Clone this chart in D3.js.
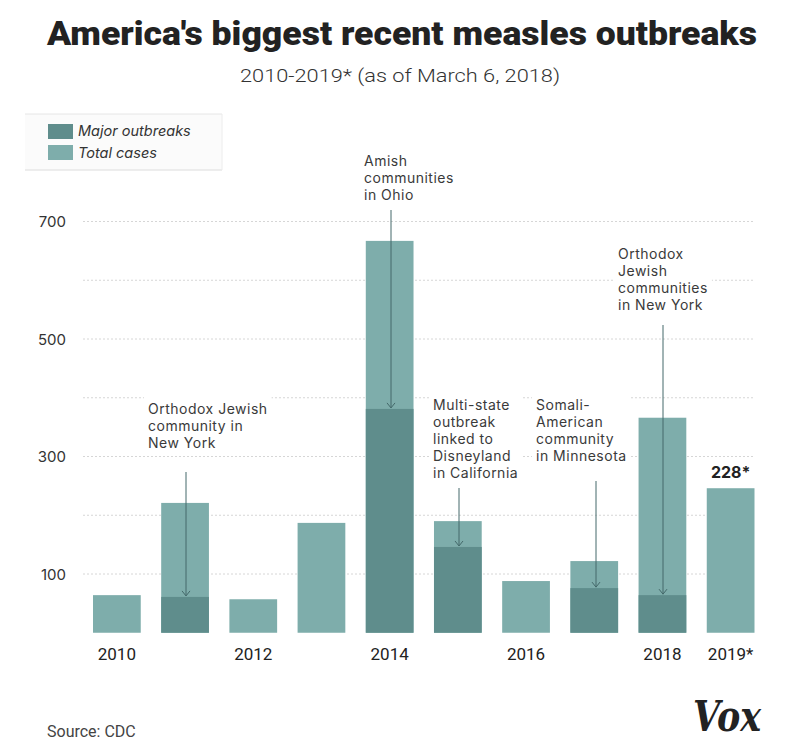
<!DOCTYPE html>
<html>
<head>
<meta charset="utf-8">
<script src="https://cdn.jsdelivr.net/npm/d3@7"></script>
<style>
  body { margin: 0; background: #fff; }
  svg { display: block; }
</style>
</head>
<body>
<div id="chart"></div>
<script>
// ---- data ----
const years = ["2010","2011","2012","2013","2014","2015","2016","2017","2018","2019*"];
const totalCases = [64, 221, 57, 187, 667, 190, 88, 122, 366, 246];
const majorOutbreaks = [0, 61, 0, 0, 381, 146, 0, 76, 64, 0];
const xTickLabels = ["2010","","2012","","2014","","2016","","2018","2019*"];
const yTickValues = [100, 200, 300, 400, 500, 600, 700];
const yTickLabels = ["100", "", "300", "", "500", "", "700"];
const annotations = [
  { year: "2011", lines: ["Orthodox Jewish", "community in", "New York"] },
  { year: "2014", lines: ["Amish", "communities", "in Ohio"] },
  { year: "2015", lines: ["Multi-state", "outbreak", "linked to", "Disneyland", "in California"] },
  { year: "2017", lines: ["Somali-", "American", "community", "in Minnesota"] },
  { year: "2018", lines: ["Orthodox", "Jewish", "communities", "in New York"] }
];
const lastLabel = "228*";

// ---- layout ----
const W = 800, H = 750;
const colTotal = "#7eadab", colMajor = "#5f8d8c", arrowCol = "#44696a";
const svg = d3.select("#chart").append("svg").attr("width", W).attr("height", H);
svg.append("rect").attr("width", W).attr("height", H).attr("fill", "#fff");

const x = d3.scaleBand().domain(years).range([93, 754.5]).paddingInner(0.3).paddingOuter(0);
const y = d3.scaleLinear().domain([0, 700]).range([632.75, 221.5]);

// title
svg.append("text").attr("x", 47).attr("y", 45)
  .attr("textLength", 710).attr("lengthAdjust", "spacingAndGlyphs")
  .style("font-family", "Roboto, 'Liberation Sans', sans-serif").style("font-weight", 900)
  .style("font-size", "33px").attr("fill", "#222")
  .text("America's biggest recent measles outbreaks");
svg.append("text").attr("x", 240).attr("y", 82)
  .attr("textLength", 320).attr("lengthAdjust", "spacingAndGlyphs")
  .style("font-family", "Roboto, sans-serif").style("font-weight", 300)
  .style("font-size", "18px").attr("fill", "#333")
  .text("2010-2019* (as of March 6, 2018)");

// legend
const lg = svg.append("g");
lg.append("rect").attr("x", 25).attr("y", 114).attr("width", 197).attr("height", 56).attr("fill", "#fbfbfb");
lg.append("line").attr("x1", 25).attr("x2", 222).attr("y1", 114).attr("y2", 114).attr("stroke", "#e6e6e6");
lg.append("line").attr("x1", 25).attr("x2", 222).attr("y1", 170).attr("y2", 170).attr("stroke", "#dcdcdc");
lg.append("line").attr("x1", 222).attr("x2", 222).attr("y1", 114).attr("y2", 170).attr("stroke", "#ececec");
const legendItems = [{ label: "Major outbreaks", color: colMajor }, { label: "Total cases", color: colTotal }];
legendItems.forEach((d, i) => {
  lg.append("rect").attr("x", 48).attr("y", 124 + i * 21).attr("width", 25).attr("height", 15).attr("fill", d.color);
  lg.append("text").attr("x", 78).attr("y", 136 + i * 22)
    .style("font-family", "Inter, 'Noto Sans', sans-serif").style("font-style", "italic")
    .style("font-size", "14.5px").attr("fill", "#333").text(d.label);
});

// gridlines
const grid = svg.append("g");
grid.selectAll("line").data(yTickValues).join("line")
  .attr("x1", 83).attr("x2", 755)
  .attr("y1", d => y(d)).attr("y2", d => y(d))
  .attr("stroke", "#d6d6d6").attr("stroke-width", 1).attr("stroke-dasharray", "2,2");

// y axis labels
const yAxis = d3.axisLeft(y).tickValues(yTickValues).tickSize(0)
  .tickFormat((d, i) => yTickLabels[i]);
const yg = svg.append("g").attr("transform", "translate(66,0)").call(yAxis);
yg.select(".domain").remove();
yg.selectAll("text").attr("x", 0).attr("dy", "0.35em")
  .style("font-family", "Inter, 'Noto Sans', sans-serif").style("font-size", "15px").attr("fill", "#333");

// annotation backgrounds (knock out gridlines)
const annG = svg.append("g");

// bars
const bars = svg.append("g");
bars.selectAll("rect.total").data(years).join("rect").attr("class", "total")
  .attr("x", d => x(d)).attr("width", x.bandwidth())
  .attr("y", (d, i) => y(totalCases[i])).attr("height", (d, i) => y(0) - y(totalCases[i]))
  .attr("fill", colTotal);
bars.selectAll("rect.major").data(years).join("rect").attr("class", "major")
  .attr("x", d => x(d)).attr("width", x.bandwidth())
  .attr("y", (d, i) => y(majorOutbreaks[i])).attr("height", (d, i) => y(0) - y(majorOutbreaks[i]))
  .attr("fill", colMajor);

// annotations
const annLayout = {
  "2011": { tx: 148, ty: 414, ax: 186, a0: 472 },
  "2014": { tx: 364, ty: 166, ax: 391, a0: 210 },
  "2015": { tx: 433, ty: 410, ax: 459, a0: 488 },
  "2017": { tx: 536, ty: 410, ax: 596, a0: 481 },
  "2018": { tx: 618, ty: 259, ax: 663, a0: 325 }
};
const lineH = 17;
annotations.forEach(a => {
  const L = annLayout[a.year];
  const i = years.indexOf(a.year);
  const t = annG.append("text").attr("x", L.tx).attr("y", L.ty)
    .style("font-family", "Inter, 'Noto Sans', sans-serif").style("font-size", "14px")
    .style("letter-spacing", "0.5px")
    .attr("fill", "#3a3a3a");
  a.lines.forEach((ln, k) => {
    t.append("tspan").attr("x", L.tx).attr("y", L.ty + k * lineH).text(ln);
  });
  const bb = t.node().getBBox();
  annG.insert("rect", "text").attr("x", bb.x - 4).attr("y", bb.y - 3)
    .attr("width", bb.width + 8).attr("height", bb.height + 6).attr("fill", "#fff");
  const yEnd = y(majorOutbreaks[i]);
  const ag = svg.append("g").attr("stroke", arrowCol).attr("stroke-width", 1).attr("fill", "none");
  ag.append("line").attr("x1", L.ax).attr("x2", L.ax).attr("y1", L.a0).attr("y2", yEnd - 1);
  ag.append("path").attr("d", `M${L.ax - 4},${yEnd - 6} L${L.ax},${yEnd - 1} L${L.ax + 4},${yEnd - 6}`);
});

// last value label
const lastIdx = years.length - 1;
svg.append("text")
  .attr("x", x(years[lastIdx]) + x.bandwidth() / 2).attr("y", y(totalCases[lastIdx]) - 10)
  .attr("text-anchor", "middle")
  .style("font-family", "Inter, 'Noto Sans', sans-serif").style("font-weight", 700)
  .style("font-size", "16px").attr("fill", "#222").text(lastLabel);

// x axis labels
const xAxis = d3.axisBottom(x).tickSize(0).tickFormat((d, i) => xTickLabels[i]);
const xg = svg.append("g").attr("transform", `translate(0,${y(0)})`).call(xAxis);
xg.select(".domain").remove();
xg.selectAll("text").attr("y", 15).attr("dy", "0.71em")
  .style("font-family", "Roboto, sans-serif").style("font-size", "17px").attr("fill", "#222");

// footer
svg.append("text").attr("x", 47).attr("y", 737)
  .style("font-family", "Roboto, sans-serif").style("font-size", "16px").attr("fill", "#444")
  .text("Source: CDC");
svg.append("text").attr("x", 693).attr("y", 731)
  .attr("textLength", 68).attr("lengthAdjust", "spacingAndGlyphs")
  .style("font-family", "'DejaVu Serif', serif").style("font-weight", 700).style("font-style", "italic")
  .style("font-size", "42px").attr("fill", "#222").text("Vox");
</script>
</body>
</html>
